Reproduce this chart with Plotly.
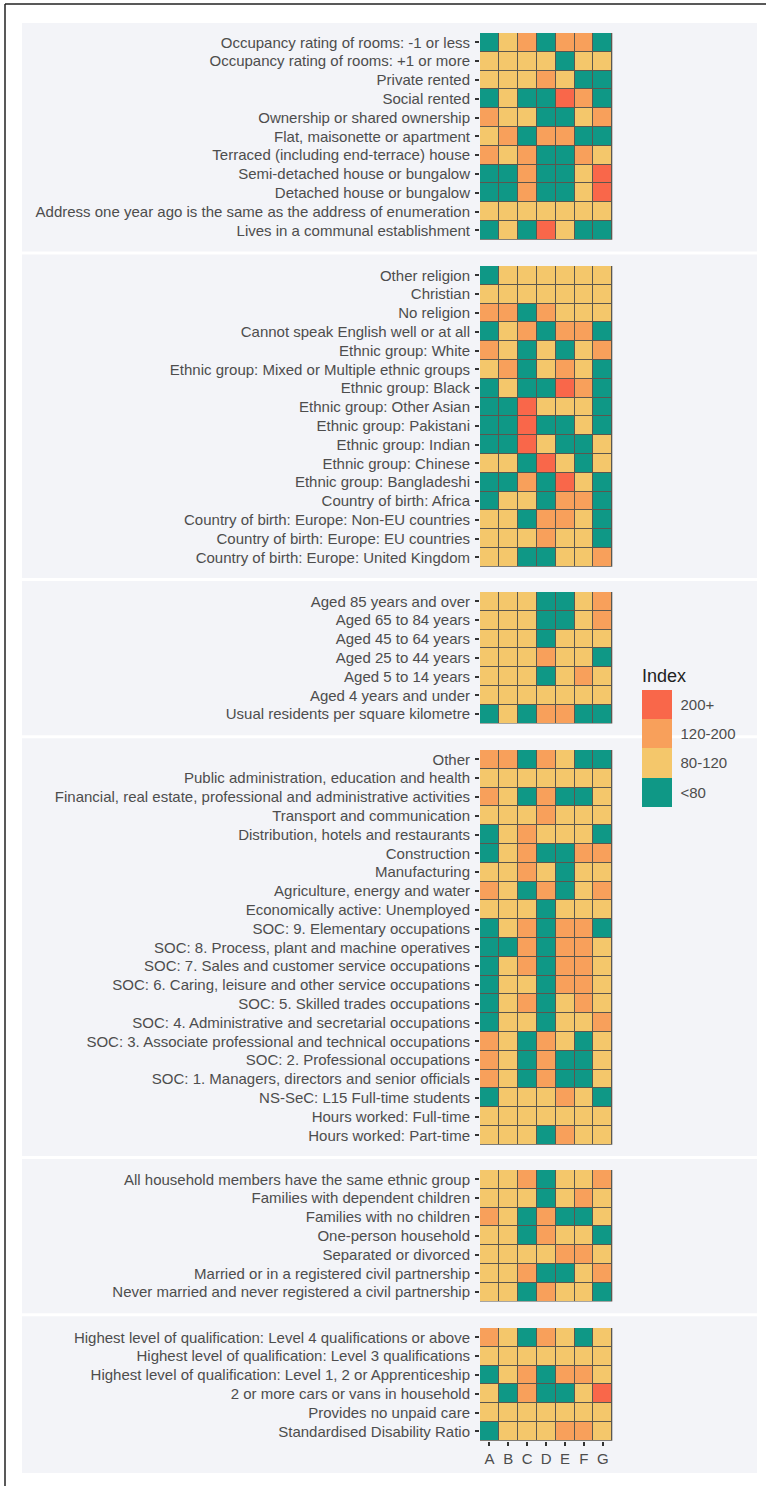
import plotly.graph_objects as go

W, H = 766, 1486

# Index bands: 0 = <80, 1 = 80-120, 2 = 120-200, 3 = 200+
band_labels = ["<80", "80-120", "120-200", "200+"]
band_colors = ["#0F9886", "#F4C76B", "#F8A05B", "#F9674A"]
areas = ["A", "B", "C", "D", "E", "F", "G"]

housing_labels = [
    "Occupancy rating of rooms: -1 or less",
    "Occupancy rating of rooms: +1 or more",
    "Private rented",
    "Social rented",
    "Ownership or shared ownership",
    "Flat, maisonette or apartment",
    "Terraced (including end-terrace) house",
    "Semi-detached house or bungalow",
    "Detached house or bungalow",
    "Address one year ago is the same as the address of enumeration",
    "Lives in a communal establishment",
]
housing_bands = [
    [0, 1, 2, 0, 2, 2, 0],
    [1, 1, 1, 1, 0, 1, 1],
    [1, 1, 1, 2, 1, 0, 0],
    [0, 1, 0, 0, 3, 2, 0],
    [2, 1, 1, 0, 0, 1, 2],
    [1, 2, 0, 2, 2, 0, 0],
    [2, 1, 2, 0, 0, 2, 1],
    [0, 0, 2, 0, 0, 1, 3],
    [0, 0, 2, 0, 0, 1, 3],
    [1, 1, 1, 1, 1, 1, 1],
    [0, 1, 0, 3, 1, 0, 0],
]

ethnicity_labels = [
    "Other religion",
    "Christian",
    "No religion",
    "Cannot speak English well or at all",
    "Ethnic group: White",
    "Ethnic group: Mixed or Multiple ethnic groups",
    "Ethnic group: Black",
    "Ethnic group: Other Asian",
    "Ethnic group: Pakistani",
    "Ethnic group: Indian",
    "Ethnic group: Chinese",
    "Ethnic group: Bangladeshi",
    "Country of birth: Africa",
    "Country of birth: Europe: Non-EU countries",
    "Country of birth: Europe: EU countries",
    "Country of birth: Europe: United Kingdom",
]
ethnicity_bands = [
    [0, 1, 1, 1, 1, 1, 1],
    [1, 1, 1, 1, 1, 1, 1],
    [2, 2, 0, 2, 1, 1, 1],
    [0, 1, 2, 0, 2, 2, 0],
    [2, 1, 0, 1, 0, 1, 2],
    [1, 2, 0, 1, 2, 1, 0],
    [0, 1, 0, 0, 3, 2, 0],
    [0, 0, 3, 1, 1, 1, 0],
    [0, 0, 3, 0, 0, 1, 0],
    [0, 0, 3, 1, 0, 0, 1],
    [1, 1, 0, 3, 1, 0, 1],
    [0, 0, 2, 0, 3, 1, 0],
    [0, 1, 1, 0, 2, 2, 0],
    [1, 1, 0, 2, 2, 1, 0],
    [1, 1, 1, 2, 1, 1, 0],
    [1, 1, 0, 0, 1, 1, 2],
]

age_labels = [
    "Aged 85 years and over",
    "Aged 65 to 84 years",
    "Aged 45 to 64 years",
    "Aged 25 to 44 years",
    "Aged 5 to 14 years",
    "Aged 4 years and under",
    "Usual residents per square kilometre",
]
age_bands = [
    [1, 1, 1, 0, 0, 1, 2],
    [1, 1, 1, 0, 0, 1, 2],
    [1, 1, 1, 0, 1, 1, 1],
    [1, 1, 1, 2, 1, 1, 0],
    [1, 1, 1, 0, 1, 2, 1],
    [1, 1, 1, 1, 1, 1, 1],
    [0, 1, 0, 2, 2, 0, 0],
]

work_labels = [
    "Other",
    "Public administration, education and health",
    "Financial, real estate, professional and administrative activities",
    "Transport and communication",
    "Distribution, hotels and restaurants",
    "Construction",
    "Manufacturing",
    "Agriculture, energy and water",
    "Economically active: Unemployed",
    "SOC: 9. Elementary occupations",
    "SOC: 8. Process, plant and machine operatives",
    "SOC: 7. Sales and customer service occupations",
    "SOC: 6. Caring, leisure and other service occupations",
    "SOC: 5. Skilled trades occupations",
    "SOC: 4. Administrative and secretarial occupations",
    "SOC: 3. Associate professional and technical occupations",
    "SOC: 2. Professional occupations",
    "SOC: 1. Managers, directors and senior officials",
    "NS-SeC: L15 Full-time students",
    "Hours worked: Full-time",
    "Hours worked: Part-time",
]
work_bands = [
    [2, 2, 0, 2, 1, 0, 0],
    [1, 1, 1, 1, 1, 1, 1],
    [2, 1, 0, 2, 0, 0, 1],
    [1, 1, 1, 2, 1, 1, 1],
    [0, 1, 2, 1, 1, 1, 0],
    [0, 1, 2, 0, 0, 2, 2],
    [1, 1, 2, 1, 0, 1, 1],
    [2, 1, 0, 2, 0, 1, 2],
    [1, 1, 1, 0, 1, 1, 1],
    [0, 1, 2, 0, 2, 2, 0],
    [0, 0, 2, 0, 2, 2, 1],
    [0, 1, 2, 0, 2, 2, 1],
    [0, 1, 1, 0, 2, 2, 1],
    [0, 1, 2, 0, 1, 2, 1],
    [0, 1, 1, 0, 1, 1, 2],
    [2, 1, 0, 2, 1, 0, 1],
    [2, 1, 0, 2, 0, 0, 1],
    [2, 1, 0, 2, 0, 0, 1],
    [0, 1, 1, 1, 2, 1, 0],
    [1, 1, 1, 1, 1, 1, 1],
    [1, 1, 1, 0, 2, 1, 1],
]

household_labels = [
    "All household members have the same ethnic group",
    "Families with dependent children",
    "Families with no children",
    "One-person household",
    "Separated or divorced",
    "Married or in a registered civil partnership",
    "Never married and never registered a civil partnership",
]
household_bands = [
    [1, 1, 2, 0, 1, 1, 2],
    [1, 1, 1, 0, 1, 2, 1],
    [2, 1, 0, 2, 0, 0, 1],
    [1, 1, 0, 2, 1, 1, 0],
    [1, 1, 1, 1, 2, 2, 1],
    [1, 1, 2, 0, 0, 1, 2],
    [1, 1, 0, 2, 1, 1, 0],
]

health_labels = [
    "Highest level of qualification: Level 4 qualifications or above",
    "Highest level of qualification: Level 3 qualifications",
    "Highest level of qualification: Level 1, 2 or Apprenticeship",
    "2 or more cars or vans in household",
    "Provides no unpaid care",
    "Standardised Disability Ratio",
]
health_bands = [
    [2, 1, 0, 2, 1, 0, 1],
    [1, 1, 1, 1, 1, 1, 1],
    [0, 1, 2, 0, 2, 2, 1],
    [1, 0, 2, 0, 0, 1, 3],
    [1, 1, 1, 1, 1, 1, 1],
    [0, 1, 1, 1, 2, 2, 1],
]

panels = [
    (housing_labels, housing_bands),
    (ethnicity_labels, ethnicity_bands),
    (age_labels, age_bands),
    (work_labels, work_bands),
    (household_labels, household_bands),
    (health_labels, health_bands),
]

# ---- layout geometry (pixels) ----
CELL_W = 18.9
CELL_H = 18.8
TILE_X0 = 480.0
TILE_TOPS = [33.0, 266.0, 592.0, 750.0, 1170.0, 1328.0]
BG_X0, BG_X1 = 22.0, 757.0
BG_TOP, BG_BOTTOM = 23.0, 1473.0
SEP = 3.0

FONT = "Liberation Sans, Arial, Helvetica, sans-serif"
TEXT = "#4D4D4D"
GRID = "#5B574E"


def px_x(x):
    return x / W


def px_y(y):
    return 1 - y / H


colorscale = []
for i, c in enumerate(band_colors):
    colorscale.append([i / 4, c])
    colorscale.append([(i + 1) / 4, c])

fig = go.Figure()
shapes = []

# grey panel backgrounds separated by thin white strips
bottoms = [t + len(p[0]) * CELL_H for t, p in zip(TILE_TOPS, panels)]
bounds = [BG_TOP]
for k in range(len(panels) - 1):
    bounds.append((bottoms[k] + TILE_TOPS[k + 1]) / 2)
bounds.append(BG_BOTTOM)
for k in range(len(panels)):
    y0 = bounds[k] + (SEP / 2 if k > 0 else 0)
    y1 = bounds[k + 1] - (SEP / 2 if k < len(panels) - 1 else 0)
    shapes.append(dict(type="rect", xref="paper", yref="paper", layer="below",
                       x0=px_x(BG_X0), x1=px_x(BG_X1), y0=px_y(y1), y1=px_y(y0),
                       fillcolor="#F3F4F8", line=dict(width=0)))

layout_axes = {}
for k, (labels, bands) in enumerate(panels):
    n = len(labels)
    idx = "" if k == 0 else str(k + 1)
    top = TILE_TOPS[k]
    bot = top + n * CELL_H
    fig.add_trace(go.Heatmap(
        z=bands, x=areas, y=labels,
        coloraxis="coloraxis",
        xgap=1, ygap=1,
        xaxis="x" + idx, yaxis="y" + idx,
        hoverinfo="skip",
    ))
    # dark backing behind the tiles so the cell gaps read as thin borders
    shapes.append(dict(type="rect", xref="x" + idx + " domain", yref="y" + idx + " domain",
                       layer="below", x0=0, x1=1, y0=0, y1=1,
                       fillcolor=GRID, line=dict(width=0)))
    last = k == len(panels) - 1
    layout_axes["xaxis" + idx] = dict(
        domain=[px_x(TILE_X0), px_x(TILE_X0 + 7 * CELL_W)],
        anchor="y" + idx,
        type="category",
        range=[-0.5, 6.5],
        showgrid=False, zeroline=False, showline=False,
        ticks="outside" if last else "",
        ticklen=4, tickwidth=1.5, tickcolor="#333333",
        showticklabels=last,
        tickfont=dict(family=FONT, size=15, color=TEXT),
        fixedrange=True,
    )
    layout_axes["yaxis" + idx] = dict(
        domain=[px_y(bot), px_y(top)],
        anchor="x" + idx,
        type="category",
        categoryorder="array", categoryarray=labels,
        range=[n - 0.5, -0.5],
        showgrid=False, zeroline=False, showline=False,
        ticks="outside", ticklen=4, tickwidth=1.5, tickcolor="#333333",
        tickfont=dict(family=FONT, size=15, color=TEXT),
        ticklabelstandoff=2,
        fixedrange=True,
    )

# outer frame (top and left edges)
shapes.append(dict(type="line", xref="paper", yref="paper",
                   x0=px_x(5), x1=1, y0=px_y(4), y1=px_y(4),
                   line=dict(color="#222222", width=1.5)))
shapes.append(dict(type="line", xref="paper", yref="paper",
                   x0=px_x(5), x1=px_x(5), y0=0, y1=px_y(4),
                   line=dict(color="#222222", width=1.5)))

fig.update_layout(
    width=W, height=H,
    margin=dict(l=0, r=0, t=0, b=0),
    paper_bgcolor="white",
    plot_bgcolor="white",
    font=dict(family=FONT, color=TEXT),
    showlegend=False,
    shapes=shapes,
    coloraxis=dict(
        cmin=-0.5, cmax=3.5,
        colorscale=colorscale,
        colorbar=dict(
            title=dict(text="Index", side="top", font=dict(family=FONT, size=18, color="#222222")),
            tickvals=[0, 1, 2, 3], ticktext=band_labels,
            tickfont=dict(family=FONT, size=15, color=TEXT),
            ticks="outside", ticklen=6, tickcolor="rgba(0,0,0,0)",
            thickness=30, thicknessmode="pixels",
            len=142, lenmode="pixels",
            x=px_x(642), xanchor="left", xpad=0,
            y=px_y(807), yanchor="bottom", ypad=0,
            outlinewidth=0,
            bgcolor="rgba(0,0,0,0)",
        ),
    ),
    **layout_axes,
)

fig.write_html("out.html")
